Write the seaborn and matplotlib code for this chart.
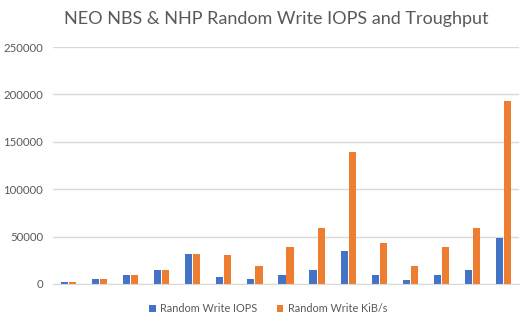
import matplotlib
matplotlib.use("Agg")
import matplotlib.pyplot as plt
import seaborn as sns
import pandas as pd

tests = [f"T{i}" for i in range(1, 16)]
iops = [2500, 5000, 10000, 15000, 32000, 7500, 5000, 10000, 15000, 35000, 10000, 4500, 10000, 15000, 48500]
kibs = [2500, 5000, 10000, 15000, 32000, 30500, 19500, 39000, 59000, 139500, 43500, 19000, 39000, 59000, 193000]
series = ["Random Write IOPS", "Random Write KiB/s"]
colors = ["#4472C4", "#ED7D31"]

df = pd.DataFrame({
    "test": tests * 2,
    "value": iops + kibs,
    "series": [series[0]] * len(tests) + [series[1]] * len(tests),
})

sns.set_style("white")
plt.rcParams['font.family'] = ['Lato', 'DejaVu Sans']

fig = plt.figure(figsize=(5.32, 3.28), dpi=100)
ax = fig.add_axes([53/532, 44/328, 466/532, 237/328])
sns.barplot(data=df, x="test", y="value", hue="series", palette=colors,
            width=0.52, gap=0.12, saturation=1, linewidth=0, ax=ax, legend=True)

ax.set_ylim(0, 250000)
ax.set_yticks(range(0, 250001, 50000))
ax.set_xlim(-0.5, len(tests) - 0.5)
ax.grid(axis="y", color="#D9D9D9", linewidth=1)
ax.set_axisbelow(True)
for s in ["top", "right", "left"]:
    ax.spines[s].set_visible(False)
ax.spines["bottom"].set_color("#D9D9D9")
ax.set_xticks([])
ax.set_xlabel("")
ax.set_ylabel("")
ax.tick_params(axis="y", length=0, labelsize=8.2, labelcolor="#595959", pad=7)

ax.legend(loc="center", bbox_to_anchor=((268 - 53) / 466, -(309 - 284) / 237), ncol=2, frameon=False,
          fontsize=7.8, labelcolor="#595959", handlelength=0.6, handleheight=0.6,
          handletextpad=0.4, columnspacing=1.8)

fig.text(276/532, 1 - 19/328, "NEO NBS & NHP Random Write IOPS and Troughput",
         ha="center", va="center", fontsize=13, color="#595959")

fig.savefig("out.png", dpi=100)
